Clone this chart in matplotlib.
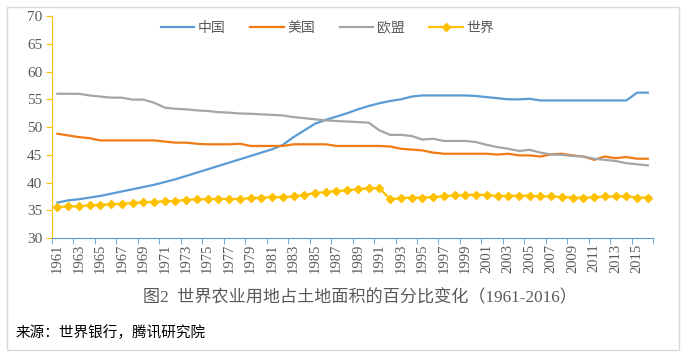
import matplotlib.pyplot as plt
from matplotlib.patches import Rectangle

years = list(range(1961, 2017))

china = [36.4, 36.8, 37.0, 37.3, 37.6, 38.0, 38.4, 38.8, 39.2, 39.6,
         40.1, 40.6, 41.2, 41.8, 42.4, 43.0, 43.6, 44.2, 44.8, 45.4,
         46.0, 46.8, 48.2, 49.4, 50.6, 51.3, 51.9, 52.5, 53.2, 53.8,
         54.3, 54.7, 55.0, 55.5, 55.7, 55.7, 55.7, 55.7, 55.7, 55.6,
         55.4, 55.2, 55.0, 55.0, 55.1, 54.8, 54.8, 54.8, 54.8, 54.8,
         54.8, 54.8, 54.8, 54.8, 56.2, 56.2]

usa = [48.8, 48.5, 48.2, 48.0, 47.6, 47.6, 47.6, 47.6, 47.6, 47.6,
       47.4, 47.2, 47.2, 47.0, 46.9, 46.9, 46.9, 47.0, 46.6, 46.6,
       46.6, 46.6, 46.9, 46.9, 46.9, 46.9, 46.6, 46.6, 46.6, 46.6,
       46.6, 46.5, 46.1, 45.95, 45.8, 45.4, 45.2, 45.2, 45.2, 45.2,
       45.2, 45.05, 45.2, 44.9, 44.9, 44.7, 45.1, 45.2, 44.9, 44.7,
       44.1, 44.7, 44.4, 44.6, 44.3, 44.3]

eu = [56.0, 56.0, 56.0, 55.7, 55.5, 55.3, 55.3, 54.95, 54.95, 54.4,
      53.5, 53.3, 53.2, 53.0, 52.9, 52.7, 52.6, 52.45, 52.4, 52.3,
      52.2, 52.1, 51.8, 51.6, 51.4, 51.2, 51.1, 51.0, 50.9, 50.8,
      49.4, 48.6, 48.6, 48.4, 47.75, 47.9, 47.5, 47.5, 47.5, 47.3,
      46.8, 46.4, 46.1, 45.7, 45.9, 45.4, 45.05, 45.0, 44.8, 44.7,
      44.3, 44.1, 43.9, 43.5, 43.3, 43.1]

world = [35.6, 35.7, 35.75, 35.9, 36.0, 36.1, 36.2, 36.3, 36.5, 36.5,
         36.65, 36.7, 36.9, 37.0, 37.0, 37.1, 37.05, 37.05, 37.2, 37.3,
         37.35, 37.4, 37.5, 37.8, 38.1, 38.3, 38.5, 38.6, 38.8, 39.0,
         39.0, 37.0, 37.2, 37.3, 37.3, 37.4, 37.55, 37.7, 37.7, 37.85,
         37.75, 37.6, 37.6, 37.65, 37.65, 37.5, 37.5, 37.4, 37.3, 37.3,
         37.35, 37.5, 37.5, 37.55, 37.3, 37.3]

labels = ['中国', '美国', '欧盟', '世界']
colors = ['#5B9BD5', '#F07A14', '#A5A5A5', '#FFC000']

plt.rcParams['font.family'] = ['Noto Sans CJK SC', 'DejaVu Sans']

fig = plt.figure(figsize=(6.89, 3.57), dpi=100)
ax = fig.add_axes([0.0755, 0.333, 0.8725, 0.622])

ax.plot(years, china, color=colors[0], lw=1.6, label=labels[0])
ax.plot(years, usa, color=colors[1], lw=1.6, label=labels[1])
ax.plot(years, eu, color=colors[2], lw=1.6, label=labels[2])
ax.plot(years, world, color=colors[3], lw=1.6, marker='D', ms=3.8,
        label=labels[3])

ax.set_xlim(1960.5, 2016.5)
ax.set_ylim(30, 70)
ax.set_yticks(range(30, 71, 5))
ax.set_xticks(years[::2])
ax.set_xticks([y - 0.5 for y in years[::2]] + [2016.5], minor=True)
ax.tick_params(axis='x', which='major', length=0, pad=4)
ax.tick_params(axis='x', which='minor', length=4, color=colors[0],
               direction='out')
ax.tick_params(axis='y', length=4, color=colors[3], pad=3)

for lab in ax.get_xticklabels():
    lab.set_rotation(90)
    lab.set_family('Liberation Serif')
    lab.set_fontsize(10.5)
    lab.set_color('#595959')
for lab in ax.get_yticklabels():
    lab.set_family('Liberation Serif')
    lab.set_fontsize(11)
    lab.set_color('#595959')

for s in ['top', 'right']:
    ax.spines[s].set_visible(False)
ax.spines['left'].set_color(colors[3])
ax.spines['bottom'].set_color(colors[0])

leg = ax.legend(loc='upper center', bbox_to_anchor=(0.458, 1.035), ncol=4,
                frameon=False, fontsize=10, handlelength=2.4,
                columnspacing=1.8, handletextpad=0.25)
for t in leg.get_texts():
    t.set_color('#595959')

fig.text(0.523, 0.165, '图2  世界农业用地占土地面积的百分比变化（1961-2016）',
         ha='center', va='center', fontsize=12.3, color='#595959',
         family=['Liberation Serif', 'Noto Sans CJK SC'])
fig.text(0.022, 0.067, '来源：世界银行，腾讯研究院', ha='left', va='center',
         fontsize=10.5, color='black')

fig.patches.append(Rectangle((0.01, 0.02), 0.975, 0.96, transform=fig.transFigure,
                             fill=False, edgecolor='#D9D9D9', lw=1))

fig.savefig('out.png', dpi=100)
